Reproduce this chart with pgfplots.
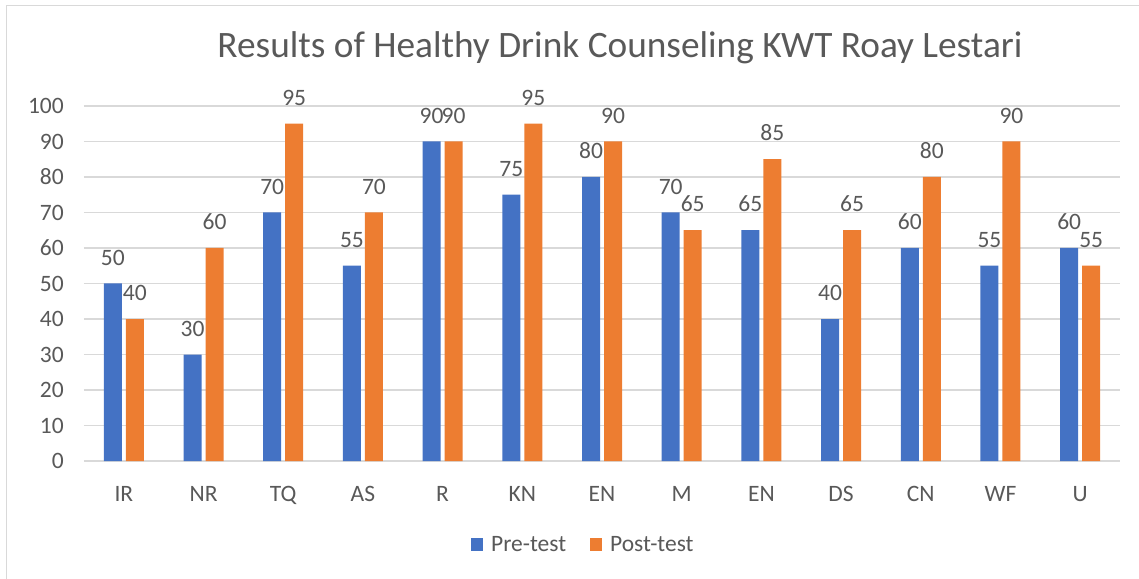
\documentclass[border=0pt]{standalone}
\usepackage{fontspec}
\setmainfont{Carlito}
\usepackage{pgfplots}
\pgfplotsset{compat=1.18}
\definecolor{cblue}{HTML}{4472C4}
\definecolor{corange}{HTML}{ED7D31}
\definecolor{cgrid}{HTML}{D9D9D9}
\definecolor{ctext}{HTML}{595959}
\begin{document}
\begin{tikzpicture}
\useasboundingbox (-84pt,-117pt) rectangle (1055pt,461pt);
\draw[cgrid, line width=1pt] (-77pt,-140pt) rectangle (1080pt,455pt);
\begin{axis}[at={(0,0)}, anchor=south west, scale only axis, width=1036pt, height=355pt,
 ybar=4pt, bar width=18pt, xmin=-0.5, xmax=12.5, ymin=0, ymax=100,
 xtick={0,...,12}, xticklabels={IR,NR,TQ,AS,R,KN,EN,M,EN,DS,CN,WF,U},
 ytick={0,10,...,100}, ymajorgrids, grid style={cgrid, line width=1.2pt},
 axis line style={draw=none}, major tick length=0pt,
 tick label style={font=\fontsize{23.5}{27}\selectfont, text=ctext},
 /pgf/number format/assume math mode=true,
 yticklabel style={inner sep=0pt, anchor=east, xshift=-20pt},
 xticklabel style={inner sep=0pt, anchor=north, yshift=-25pt},
 nodes near coords,
 nodes near coords style={font=\fontsize{23.5}{27}\selectfont, text=ctext, anchor=south, inner sep=0pt, yshift=18pt},
 legend columns=2,
 legend style={draw=none, at={(0.482,-0.2366)}, anchor=center, font=\fontsize{23.5}{27}\selectfont, text=ctext,
   /tikz/every odd column/.append style={column sep=6pt},
   /tikz/every even column/.append style={column sep=22pt}},
 legend image code/.code={\draw[#1, draw=none] (0pt,-6pt) rectangle (12pt,7pt);},
]
\addplot[fill=cblue, draw=none] coordinates {(0,50) (1,30) (2,70) (3,55) (4,90) (5,75) (6,80) (7,70) (8,65) (9,40) (10,60) (11,55) (12,60)};
\addplot[fill=corange, draw=none] coordinates {(0,40) (1,60) (2,95) (3,70) (4,90) (5,95) (6,90) (7,65) (8,85) (9,65) (10,80) (11,90) (12,55)};
\legend{Pre-test, Post-test}
\end{axis}
\node[font=\fontsize{37.3}{42}\selectfont, text=ctext] at (536pt,413pt) {Results of Healthy Drink Counseling KWT Roay Lestari};
\end{tikzpicture}
\end{document}
